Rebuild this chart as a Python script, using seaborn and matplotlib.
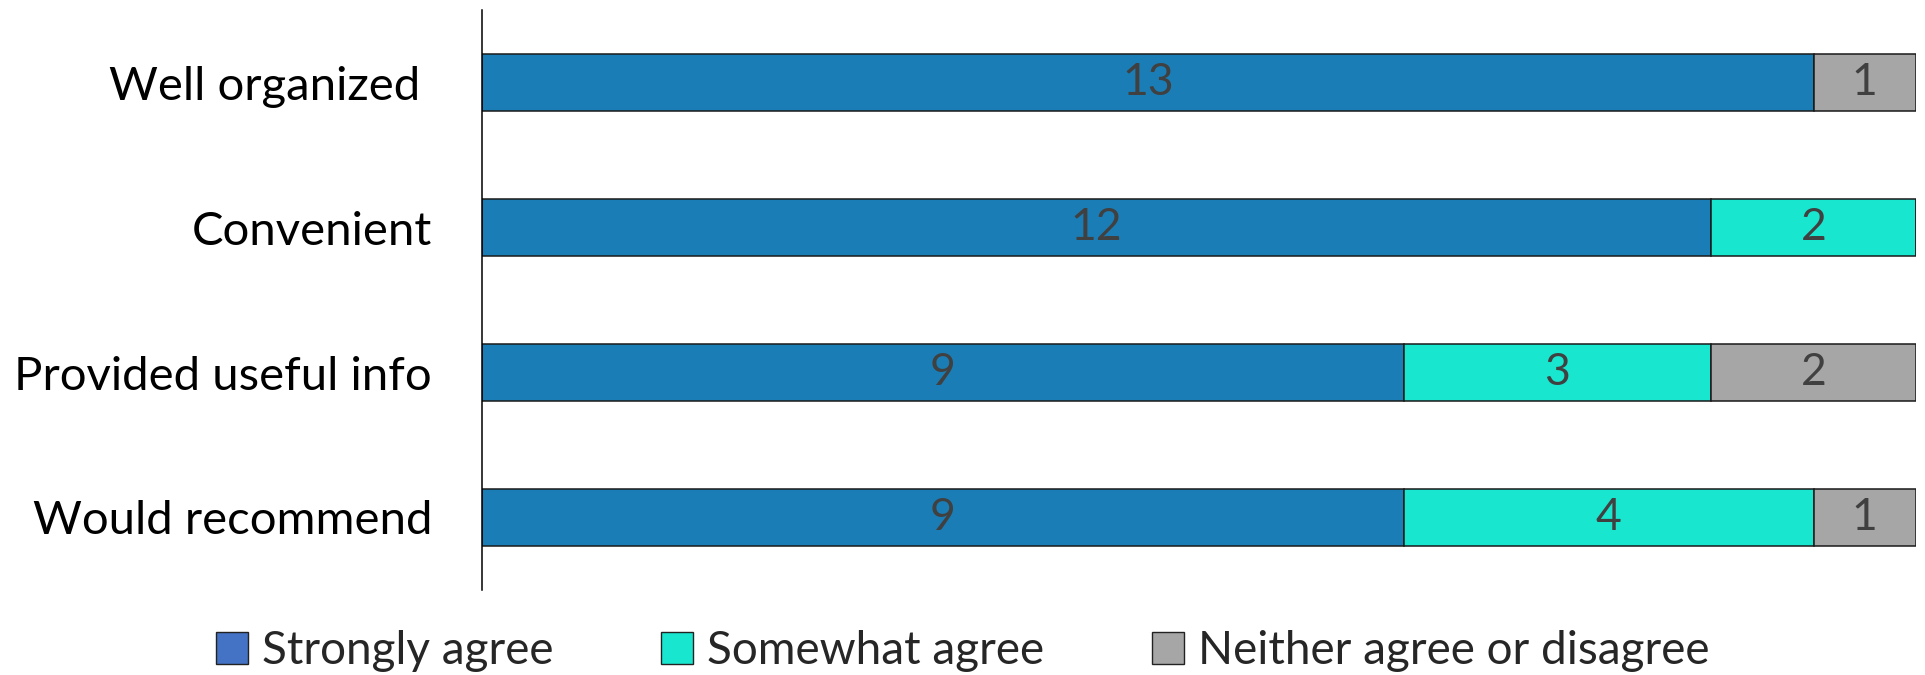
import matplotlib
matplotlib.use("Agg")
import matplotlib.pyplot as plt
import seaborn as sns
import pandas as pd
import numpy as np
from matplotlib.patches import Patch

categories = ["Well organized ", "Convenient", "Provided useful info", "Would recommend"]
strongly_agree = [13, 12, 9, 9]
somewhat_agree = [0, 2, 3, 4]
neither = [1, 0, 2, 1]
series_names = ["Strongly agree", "Somewhat agree", "Neither agree or disagree"]

bar_colors = ["#1B7DB5", "#19E6CF", "#A6A6A6"]
legend_colors = ["#4472C4", "#19E6CF", "#A6A6A6"]

sns.set_style("white")
plt.rcParams["font.family"] = ["Lato", "DejaVu Sans"]

df = pd.DataFrame({
    "category": categories,
    series_names[0]: strongly_agree,
    series_names[1]: somewhat_agree,
    series_names[2]: neither,
})

fig = plt.figure(figsize=(19.25, 6.75), dpi=100)
ax = fig.add_axes([0.2504, 0.126, 0.7449, 0.859])

left = np.zeros(len(categories))
for name, col in zip(series_names, bar_colors):
    vals = df[name].to_numpy(dtype=float)
    sns.barplot(data=df, x=name, y="category", left=left, color=col,
                edgecolor="#1a1a1a", linewidth=1.1, width=0.39,
                orient="h", ax=ax, saturation=1)
    cont = ax.containers[-1]
    labels = [f"{int(v)}" if v > 0 else "" for v in vals]
    ax.bar_label(cont, labels=labels, label_type="center",
                 fontsize=32, color="#404040")
    left = left + vals

ax.set_xlim(0, 14)
ax.set_ylim(3.5, -0.5)
ax.set_xlabel("")
ax.set_ylabel("")
ax.set_xticks([])
for s in ["top", "right", "bottom"]:
    ax.spines[s].set_visible(False)
ax.spines["left"].set_color("#000000")
ax.spines["left"].set_linewidth(1.1)
ax.tick_params(axis="y", length=0, pad=36, labelsize=34, labelcolor="#000000")

handles = [Patch(facecolor=c, edgecolor="#222222", linewidth=1.0) for c in legend_colors]
fig.legend(handles, series_names, loc="center", bbox_to_anchor=(0.5, 0.036),
           ncol=3, frameon=False, fontsize=33, handlelength=0.7, handleheight=0.7,
           handletextpad=0.3, columnspacing=2.35)

fig.savefig("out.png", dpi=100)
